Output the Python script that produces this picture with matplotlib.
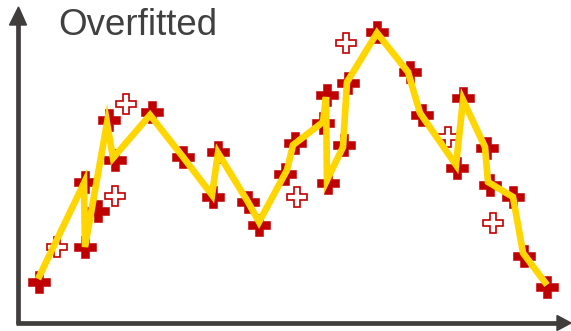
import matplotlib
matplotlib.use("Agg")
import matplotlib.pyplot as plt
from matplotlib.patches import Polygon

# Observations (filled) that the model was trained on
train_x = [21, 67, 67, 80, 91, 97, 134, 165, 195, 200, 230, 241, 267, 277,
           305, 309, 310, 326, 330, 359, 392, 404, 439, 445, 469, 472, 495, 506, 529]
train_y = [41, 141, 76, 112, 203, 163, 211, 166, 126, 171, 121, 98, 149, 180,
           200, 228, 140, 178, 240, 291, 251, 208, 155, 225, 175, 138, 126, 67, 36]

# Held-out observations (hollow)
test_x = [39, 108, 97, 279, 328, 430, 475]
test_y = [76, 219, 127, 126, 280, 186, 100]

# Overfitted model curve
fit_x = [20, 66, 67, 89, 95, 132, 165, 194, 200, 230, 241, 269, 275, 305,
         308, 309, 325, 329, 359, 390, 402, 438, 445, 467, 470, 495, 505, 529]
fit_y = [44, 140, 76, 200, 165, 208, 166, 128, 170, 121, 101, 153, 178, 201,
         226, 143, 176, 241, 290, 251, 210, 158, 223, 176, 141, 126, 70, 38]

RED = "#c00000"
YELLOW = "#ffd600"
AXIS = "#403d3d"

fig = plt.figure(figsize=(5.71, 3.31), dpi=100)
ax = fig.add_axes([0, 0, 1, 1])
ax.set_xlim(-18, 553)
ax.set_ylim(-8, 323)
ax.axis("off")

# Axes with arrow heads
ax.plot([0, 0], [-0.5, 300], color=AXIS, lw=3.4, solid_capstyle="butt", zorder=1)
ax.plot([-2.3, 540], [0, 0], color=AXIS, lw=3.4, solid_capstyle="butt", zorder=1)
ax.add_patch(Polygon([[-8.5, 298], [8.5, 298], [0.5, 316]], closed=True,
                     color=AXIS, zorder=1))
ax.add_patch(Polygon([[539, 7.5], [539, -7.5], [553, 0]], closed=True,
                     color=AXIS, zorder=1))

ax.plot(train_x, train_y, linestyle="none", marker="P", markersize=16,
        markerfacecolor=RED, markeredgecolor=RED, markeredgewidth=0.4, zorder=2)
ax.plot(test_x, test_y, linestyle="none", marker="P", markersize=15,
        markerfacecolor="white", markeredgecolor=RED, markeredgewidth=1.2, zorder=2)
ax.plot(fit_x, fit_y, color=YELLOW, lw=4.8, solid_joinstyle="miter",
        solid_capstyle="butt", zorder=3)

fig.text(58 / 571, 1 - 35 / 331, "Overfitted", fontsize=26.5, color="#404040",
         family="Liberation Sans", ha="left", va="baseline")

fig.savefig("out.png", dpi=100)
